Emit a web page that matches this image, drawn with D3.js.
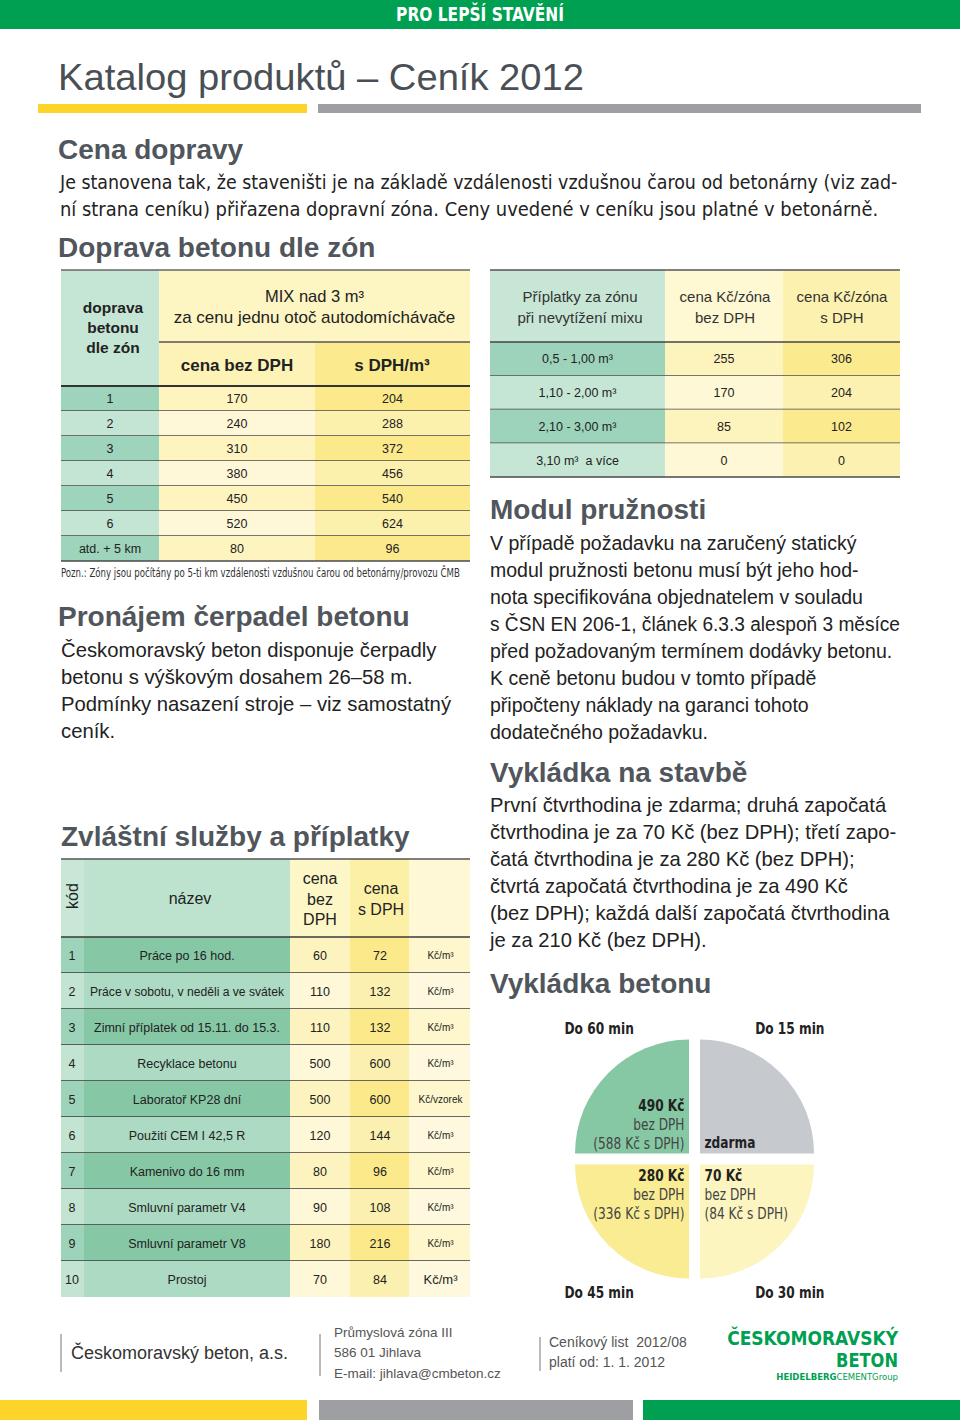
<!DOCTYPE html>
<html><head><meta charset="utf-8">
<script src="https://cdn.jsdelivr.net/npm/d3@7"></script>
<style>body{margin:0;background:#fff}svg{display:block}</style>
</head><body>
<svg id="c" width="960" height="1420"></svg>
<script>
// ---------- DATA ----------
const zones = ["1","2","3","4","5","6","atd. + 5 km"];
const zonePriceNet = [170,240,310,380,450,520,80];
const zonePriceVat = [204,288,372,456,540,624,96];

const mixRanges = ["0,5 - 1,00 m³","1,10 - 2,00 m³","2,10 - 3,00 m³","3,10 m³\u00a0 a více"];
const mixNet = [255,170,85,0];
const mixVat = [306,204,102,0];

const serviceCodes = [1,2,3,4,5,6,7,8,9,10];
const serviceNames = ["Práce po 16 hod.","Práce v sobotu, v neděli a ve svátek","Zimní příplatek od 15.11. do 15.3.","Recyklace betonu","Laboratoř KP28 dní","Použití CEM I 42,5 R","Kamenivo do 16 mm","Smluvní parametr V4","Smluvní parametr V8","Prostoj"];
const serviceNet = [60,110,110,500,500,120,80,90,180,70];
const serviceVat = [72,132,132,600,600,144,96,108,216,84];
const serviceUnits = ["Kč/m³","Kč/m³","Kč/m³","Kč/m³","Kč/vzorek","Kč/m³","Kč/m³","Kč/m³","Kč/m³","Kč/m³"];

const unloadLabels = ["Do 15 min","Do 30 min","Do 45 min","Do 60 min"];
const unloadMinutes = [15,15,15,15];
const unloadPrice = ["zdarma","70 Kč","280 Kč","490 Kč"];
const unloadVat = ["","(84 Kč s DPH)","(336 Kč s DPH)","(588 Kč s DPH)"];

// ---------- SETUP ----------
const svg = d3.select("#c");
const SANS = "'Liberation Sans', Arial, Helvetica, sans-serif";
const COND = "'Liberation Sans Narrow', 'DejaVu Sans Condensed', 'Liberation Sans', sans-serif";
const HEAD = "#50565c";
const GREEN = "#00a052";

function txt(x, y, s, o = {}) {
  const t = svg.append("text").attr("x", x).attr("y", y)
    .attr("font-family", o.family || SANS)
    .attr("font-size", o.size || 14)
    .attr("font-weight", o.weight || "normal")
    .attr("fill", o.fill || "#222")
    .attr("text-anchor", o.anchor || "start")
    .text(s);
  if (o.len) t.attr("textLength", o.len).attr("lengthAdjust", "spacingAndGlyphs");
  return t;
}
// horizontally scaled text: either fixed factor k, or fit to target width w
function stxt(x, y, s, o = {}, k = null, w = null) {
  const t = txt(0, 0, s, o);
  if (w != null) k = w / t.node().getComputedTextLength();
  t.attr("transform", `translate(${x},${y}) scale(${k},1)`);
  return t;
}
function rect(x, y, w, h, fill) {
  return svg.append("rect").attr("x", x).attr("y", y).attr("width", w).attr("height", h).attr("fill", fill);
}
function line(x1, y1, x2, y2, stroke = "#444", w = 1.4) {
  return svg.append("line").attr("x1", x1).attr("y1", y1).attr("x2", x2).attr("y2", y2)
    .attr("stroke", stroke).attr("stroke-width", w);
}
function fitText(t, maxW) {
  const w = t.node().getComputedTextLength();
  if (w > maxW) t.attr("textLength", maxW).attr("lengthAdjust", "spacingAndGlyphs");
}
const CK = 0.82; // condensation factor for the condensed face

// ---------- HEADER ----------
rect(0, 0, 960, 29, GREEN);
stxt(480, 21, "PRO LEPŠÍ STAVĚNÍ", {family: COND, size: 19, weight: "bold", fill: "#fff", anchor: "middle"}, null, 168);
txt(58, 90, "Katalog produktů – Ceník 2012", {size: 37, fill: "#4a4f56", len: 526});
rect(38, 104, 269, 9, "#fdd52a");
rect(318, 104, 603, 9, "#9d9fa2");

txt(58, 159, "Cena dopravy", {size: 28, weight: "bold", fill: HEAD});
stxt(60, 189, "Je stanovena tak, že staveništi je na základě vzdálenosti vzdušnou čarou od betonárny (viz zad-", {family: COND, size: 20}, null, 838);
stxt(60, 216, "ní strana ceníku) přiřazena dopravní zóna. Ceny uvedené v ceníku jsou platné v betonárně.", {family: COND, size: 20}, null, 819);
txt(58, 257, "Doprava betonu dle zón", {size: 28, weight: "bold", fill: HEAD});

// ---------- TABLE 1 ----------
{
  const c = [61, 159, 315, 470];
  rect(c[0], 270, c[1]-c[0], 116, "#c6e6d5");
  rect(c[1], 270, c[3]-c[1], 72, "#fdf5c2");
  rect(c[1], 342, c[2]-c[1], 44, "#fdf3b6");
  rect(c[2], 342, c[3]-c[2], 44, "#fbeb8e");
  const y = d3.scaleBand().domain(d3.range(zones.length)).range([386, 561]);
  const colC0 = ["#9dd4bb", "#c4e5d3"], colC1 = ["#fdf4bf", "#fef8d8"], colC2 = ["#fbe98b", "#fcf0ad"];
  zones.forEach((z, i) => {
    const yy = y(i), h = y.bandwidth(), k = i % 2;
    rect(c[0], yy, c[1]-c[0], h, colC0[k]);
    rect(c[1], yy, c[2]-c[1], h, colC1[k]);
    rect(c[2], yy, c[3]-c[2], h, colC2[k]);
    const by = yy + h/2 + 4.5;
    txt((c[0]+c[1])/2, by, z, {size: 12.5, anchor: "middle"});
    txt((c[1]+c[2])/2, by, zonePriceNet[i], {size: 12.5, anchor: "middle"});
    txt((c[2]+c[3])/2, by, zonePriceVat[i], {size: 12.5, anchor: "middle"});
    line(c[0], yy + h, c[3], yy + h, "#4a4a4a", 1.4);
  });
  line(c[0], 270, c[3], 270, "#666", 1.5);
  line(c[1], 342, c[3], 342, "#555", 1.3);
  line(c[0], 386, c[3], 386, "#333", 1.8);
  ["doprava", "betonu", "dle zón"].forEach((s, i) => txt(113, 313 + i*20, s, {size: 15.5, weight: "bold", anchor: "middle"}));
  txt(314.5, 302, "MIX nad 3 m³", {size: 16.5, anchor: "middle"});
  txt(314.5, 323, "za cenu jednu otoč autodomíchávače", {size: 17, anchor: "middle"});
  txt(237, 371, "cena bez DPH", {size: 17, weight: "bold", anchor: "middle"});
  txt(392, 371, "s DPH/m³", {size: 17, weight: "bold", anchor: "middle"});
  stxt(61, 577, "Pozn.: Zóny jsou počítány po 5-ti km vzdálenosti vzdušnou čarou od betonárny/provozu ČMB", {family: COND, size: 12.5, fill: "#333"}, null, 399);
}

// ---------- TABLE 2 ----------
{
  const c = [490, 665, 783, 900];
  rect(c[0], 270, c[1]-c[0], 72, "#c7e6d6");
  rect(c[1], 270, c[2]-c[1], 72, "#fef8d3");
  rect(c[2], 270, c[3]-c[2], 72, "#fcf1ae");
  const y = d3.scaleBand().domain(d3.range(mixRanges.length)).range([342, 477]);
  const colC0 = ["#9dd3bb", "#c6e6d5"], colC1 = ["#fdf3bd", "#fef8d6"], colC2 = ["#fbea8e", "#fcf1b0"];
  mixRanges.forEach((m, i) => {
    const yy = y(i), h = y.bandwidth(), k = i % 2;
    rect(c[0], yy, c[1]-c[0], h, colC0[k]);
    rect(c[1], yy, c[2]-c[1], h, colC1[k]);
    rect(c[2], yy, c[3]-c[2], h, colC2[k]);
    const by = yy + h/2 + 4.5;
    txt((c[0]+c[1])/2, by, m, {size: 12.5, anchor: "middle"});
    txt((c[1]+c[2])/2, by, mixNet[i], {size: 12.5, anchor: "middle"});
    txt((c[2]+c[3])/2, by, mixVat[i], {size: 12.5, anchor: "middle"});
    line(c[0], yy + h, c[3], yy + h, "#4a4a4a", 1.4);
  });
  line(c[0], 270, c[3], 270, "#555", 1.5);
  line(c[0], 342, c[3], 342, "#444", 1.5);
  txt(580, 302, "Příplatky za zónu", {size: 15, fill: "#333", anchor: "middle"});
  txt(580, 323, "při nevytížení mixu", {size: 15, fill: "#333", anchor: "middle"});
  txt(725, 302, "cena Kč/zóna", {size: 15, fill: "#333", anchor: "middle"});
  txt(725, 323, "bez DPH", {size: 15, fill: "#333", anchor: "middle"});
  txt(842, 302, "cena Kč/zóna", {size: 15, fill: "#333", anchor: "middle"});
  txt(842, 323, "s DPH", {size: 15, fill: "#333", anchor: "middle"});
}

// ---------- LEFT TEXT ----------
txt(58, 626, "Pronájem čerpadel betonu", {size: 28, weight: "bold", fill: HEAD});
["Českomoravský beton disponuje čerpadly", "betonu s výškovým dosahem 26–58 m.", "Podmínky nasazení stroje – viz samostatný", "ceník."]
  .forEach((s, i) => { const t = txt(61, 657 + i*27, s, {size: 20.3}); fitText(t, 392); });
txt(61, 846, "Zvláštní služby a příplatky", {size: 28, weight: "bold", fill: HEAD});

// ---------- TABLE 3 ----------
{
  const c = [61, 84, 290, 350, 409, 470];
  const hdr = ["#c8e7d7", "#bde3cf", "#fdf6c6", "#fcf0a6", "#fef8d6"];
  hdr.forEach((f, j) => rect(c[j], 859, c[j+1]-c[j], 78, f));
  const y = d3.scaleBand().domain(d3.range(serviceCodes.length)).range([937, 1297]);
  const cols = [["#9dd4b9", "#c2e4d1"], ["#86c8a6", "#acdac2"], ["#fdf3be", "#fef8d8"], ["#fbe98a", "#fcf0b0"], ["#fef6cc", "#fef9de"]];
  serviceCodes.forEach((code, i) => {
    const yy = y(i), h = y.bandwidth(), k = i % 2;
    cols.forEach((cc, j) => rect(c[j], yy, c[j+1]-c[j], h, cc[k]));
    const by = yy + h/2 + 4.5;
    txt(72, by, code, {size: 12.5, anchor: "middle"});
    const nt = txt(187, by, serviceNames[i], {size: 12.5, anchor: "middle"});
    fitText(nt, 194);
    txt(320, by, serviceNet[i], {size: 12.5, anchor: "middle"});
    txt(380, by, serviceVat[i], {size: 12.5, anchor: "middle"});
    const last = i === serviceCodes.length - 1;
    const ut = txt(440.5, last ? by + 0.5 : by - 0.5, serviceUnits[i], {size: last ? 13 : 10, anchor: "middle"});
    fitText(ut, 56);
    if (!last) line(c[0], yy + h, c[5], yy + h, "#3a3a3a", 1.5);
  });
  line(c[0], 859, c[5], 859, "#555", 1.5);
  line(c[0], 937, c[5], 937, "#3a3a3a", 1.5);
  txt(0, 0, "kód", {size: 16, anchor: "middle"}).attr("transform", "translate(78,896) rotate(-90)");
  txt(190, 904, "název", {size: 16, anchor: "middle"});
  ["cena", "bez", "DPH"].forEach((s, i) => txt(320, 884 + i*20.5, s, {size: 16, anchor: "middle"}));
  ["cena", "s DPH"].forEach((s, i) => txt(381, 894 + i*20.5, s, {size: 16, anchor: "middle"}));
}

// ---------- RIGHT TEXT ----------
txt(490, 519, "Modul pružnosti", {size: 28, weight: "bold", fill: HEAD});
["V případě požadavku na zaručený statický", "modul pružnosti betonu musí být jeho hod-", "nota specifikována objednatelem v souladu",
 "s ČSN EN 206-1, článek 6.3.3 alespoň 3 měsíce", "před požadovaným termínem dodávky betonu.", "K ceně betonu budou v tomto případě",
 "připočteny náklady na garanci tohoto", "dodatečného požadavku."]
  .forEach((s, i) => { const t = txt(490, 550 + i*27, s, {size: 19.5}); fitText(t, 410); });
txt(490, 782, "Vykládka na stavbě", {size: 28, weight: "bold", fill: HEAD});
["První čtvrthodina je zdarma; druhá započatá", "čtvrthodina je za 70 Kč (bez DPH); třetí zapo-", "čatá čtvrthodina je za 280 Kč (bez DPH);",
 "čtvrtá započatá čtvrthodina je za 490 Kč", "(bez DPH); každá další započatá čtvrthodina", "je za 210 Kč (bez DPH)."]
  .forEach((s, i) => { const t = txt(490, 812 + i*27, s, {size: 20.2}); fitText(t, 408); });
txt(490, 993, "Vykládka betonu", {size: 28, weight: "bold", fill: HEAD});

// ---------- PIE ----------
{
  const cx = 694.5, cy = 1159, r = 114, gap = 5.5;
  const pie = d3.pie().sort(null).value(d => d)(unloadMinutes);
  const arc = d3.arc().innerRadius(0).outerRadius(r);
  const fills = ["#c6c9ce", "#fcf5bf", "#f9ec93", "#86c8a4"];
  const g = svg.append("g").attr("transform", `translate(${cx},${cy})`);
  pie.forEach((p, i) => {
    const mid = (p.startAngle + p.endAngle) / 2;
    const sx = Math.sign(Math.sin(mid)), sy = -Math.sign(Math.cos(mid));
    g.append("path").attr("d", arc(p)).attr("fill", fills[i])
      .attr("transform", `translate(${sx*gap},${sy*gap})`);
    const right = sx > 0, top = sy < 0;
    const tx = right ? 10 : -10, anchor = right ? "start" : "end";
    stxt(right ? cx + 130 : cx - 130, top ? cy - 125 : cy + 139, unloadLabels[i],
      {family: COND, size: 16.5, weight: "bold", anchor: right ? "end" : "start", fill: "#222"}, CK);
    if (i === 0) {
      stxt(cx + tx, cy - 11, unloadPrice[i], {family: COND, size: 16.5, weight: "bold", anchor, fill: "#222"}, CK);
    } else {
      const base = top ? cy - 48 : cy + 22;
      stxt(cx + tx, base, unloadPrice[i], {family: COND, size: 16.5, weight: "bold", anchor, fill: "#222"}, CK);
      stxt(cx + tx, base + 19, "bez DPH", {family: COND, size: 16.5, anchor, fill: "#444"}, CK);
      stxt(cx + tx, base + 38, unloadVat[i], {family: COND, size: 16.5, anchor, fill: "#444"}, CK);
    }
  });
}

// ---------- FOOTER ----------
line(61, 1334, 61, 1372, "#777", 1);
txt(71, 1359, "Českomoravský beton, a.s.", {size: 18, fill: "#333"});
line(320, 1334, 320, 1376, "#777", 1);
txt(334, 1337, "Průmyslová zóna III", {size: 13.5, fill: "#555"});
txt(334, 1357, "586 01 Jihlava", {size: 13.5, fill: "#555"});
txt(334, 1378, "E-mail: jihlava@cmbeton.cz", {size: 13.5, fill: "#555"});
line(540, 1337, 540, 1371, "#777", 1);
txt(549, 1347, "Ceníkový list\u00a0 2012/08", {size: 14, fill: "#555"});
txt(549, 1367, "platí od: 1. 1. 2012", {size: 14, fill: "#555"});
stxt(898, 1344.5, "ČESKOMORAVSKÝ", {family: COND, size: 19, weight: "bold", fill: GREEN, anchor: "end"}, null, 171);
stxt(898, 1367, "BETON", {family: COND, size: 19, weight: "bold", fill: GREEN, anchor: "end"}, null, 62);
{
  const t = svg.append("text").attr("x", 0).attr("y", 0).attr("text-anchor", "end")
    .attr("font-family", COND).attr("font-size", 9.5).attr("fill", GREEN);
  t.append("tspan").attr("font-weight", "bold").text("HEIDELBERG");
  t.append("tspan").text("CEMENTGroup");
  const k = 122 / t.node().getComputedTextLength();
  t.attr("transform", `translate(898,1379.5) scale(${k},1)`);
}
rect(0, 1400, 307, 20, "#fdd52a");
rect(319, 1400, 314, 20, "#9d9fa2");
rect(643, 1400, 317, 20, GREEN);
</script>
</body></html>
